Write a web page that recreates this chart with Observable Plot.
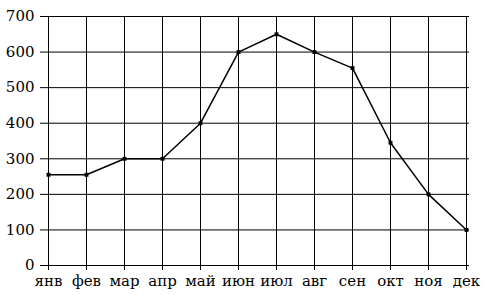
<!DOCTYPE html>
<html><head><meta charset="utf-8">
<script src="https://cdn.jsdelivr.net/npm/d3@7"></script>
<script src="https://cdn.jsdelivr.net/npm/@observablehq/plot@0.6"></script>
<style>
html,body{margin:0;padding:0;background:#fff;}
svg{display:block;}
</style>
</head><body><div id="chart"></div>
<script>
const months = ["янв","фев","мар","апр","май","июн","июл","авг","сен","окт","ноя","дек"];
const values = [255,255,300,300,400,600,650,600,555,345,200,100];
const yTicks = [0,100,200,300,400,500,600,700];

const data = months.map((m,i)=>({month:m, value:values[i]}));

const chart = Plot.plot({
  width: 491,
  height: 295,
  marginLeft: 45,
  marginRight: 22,
  marginTop: 16,
  marginBottom: 30,
  style: {color: "#000", background: "#fff"},
  x: {type: "point", domain: months, padding: 0},
  y: {domain: [0,700]},
  marks: [
    Plot.ruleY(yTicks, {stroke: "#000", strokeWidth: 1}),
    Plot.ruleX(months, {stroke: "#000", strokeWidth: 1}),
    Plot.axisY({ticks: yTicks, tickSize: 5, tickPadding: 6, label: null, stroke: "#000", fontSize: 15, fontFamily: "DejaVu Serif"}),
    Plot.axisX({tickSize: 5, tickPadding: 5, label: null, stroke: "#000", fontSize: 15, fontFamily: "DejaVu Serif"}),
    Plot.line(data, {x: "month", y: "value", stroke: "#000", strokeWidth: 1.5}),
    Plot.dot(data, {x: "month", y: "value", symbol: "square", r: 2.2, fill: "#000", stroke: "none"})
  ]
});
document.getElementById("chart").appendChild(chart);
</script>
</body></html>
